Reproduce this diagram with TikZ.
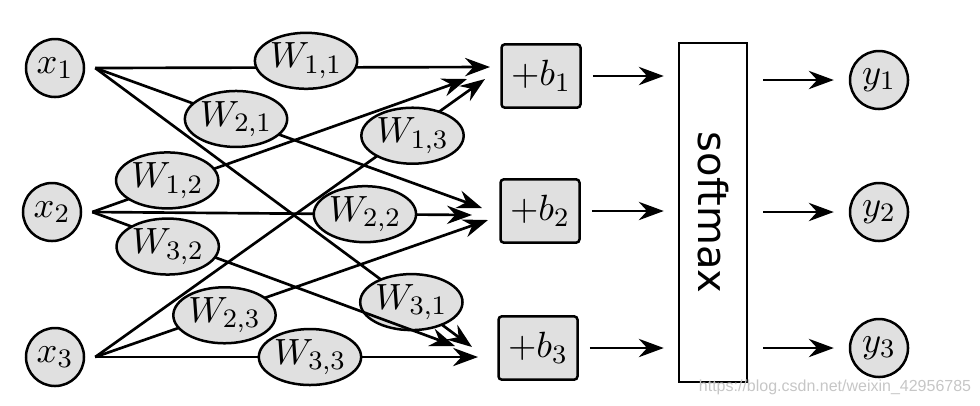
\documentclass[tikz,border=0pt]{standalone}
\usepackage{fontspec}
\usetikzlibrary{shapes.geometric,arrows.meta}
\newfontfamily\smfont{DejaVu Sans}
\newfontfamily\wmfont{Liberation Sans}
\definecolor{nodegray}{gray}{0.88}
\begin{document}
\begin{tikzpicture}[x=0.3pt, y=-0.3pt,
    every node/.style={font=\fontsize{11}{13}\selectfont},
    inp/.style={circle, draw, fill=nodegray, line width=0.75pt, minimum size=17.4pt, inner sep=0pt},
    wt/.style={ellipse, draw, fill=nodegray, line width=0.75pt, minimum width=24.6pt, minimum height=16.8pt, inner sep=0pt},
    bias/.style={rectangle, draw, fill=nodegray, line width=0.75pt, rounded corners=1pt, minimum width=23.7pt, minimum height=19pt, inner sep=0pt},
    smbox/.style={rectangle, draw, line width=0.75pt, minimum width=20.4pt, minimum height=101.7pt},
    arr/.style={-{Stealth[length=7.5pt, width=5.5pt, inset=2.5pt]}, line width=0.8pt}]
    \useasboundingbox (0,0) rectangle (980,405);
    \node[inp] (x1) at (55,68) {$x_1$};
    \node[inp] (x2) at (52,212) {$x_2$};
    \node[inp] (x3) at (55,357) {$x_3$};
    \coordinate (s1) at ([xshift=3pt]x1.east);
    \coordinate (s2) at ([xshift=3pt]x2.east);
    \coordinate (s3) at ([xshift=3pt]x3.east);
    \node[bias] (b1) at (541,76) {$+b_1$};
    \node[bias] (b2) at (540,211) {$+b_2$};
    \node[bias] (b3) at (538,348) {$+b_3$};
    \coordinate (e11) at (490,67);
    \coordinate (e12) at (467,79);
    \coordinate (e13) at (485,79);
    \coordinate (e21) at (482,208);
    \coordinate (e22) at (472,215);
    \coordinate (e23) at (488,220);
    \coordinate (e31) at (472,347);
    \coordinate (e32) at (455,346);
    \coordinate (e33) at (478,357);
    \draw[arr] (s1) -- node[wt, pos=0.534, yshift=2pt] (w11) {$W_{1,1}$} (e11);
    \draw[arr] (s1) -- node[wt, pos=0.364] (w21) {$W_{2,1}$} (e21);
    \draw[arr] (s1) -- node[wt, pos=0.839] (w31) {$W_{3,1}$} (e31);
    \draw[arr] (s2) -- node[wt, pos=0.2, yshift=1.5pt] (w12) {$W_{1,2}$} (e12);
    \draw[arr] (s2) -- node[wt, pos=0.718] (w22) {$W_{2,2}$} (e22);
    \draw[arr] (s2) -- node[wt, pos=0.208, yshift=-2pt] (w32) {$W_{3,2}$} (e32);
    \draw[arr] (s3) -- node[wt, pos=0.814, yshift=-1.5pt] (w13) {$W_{1,3}$} (e13);
    \draw[arr] (s3) -- node[wt, pos=0.329, yshift=-1pt] (w23) {$W_{2,3}$} (e23);
    \draw[arr] (s3) -- node[wt, pos=0.561] (w33) {$W_{3,3}$} (e33);
    \node[smbox] (sm) at (713,212.5) {};
    \node[rotate=-90, font=\smfont\fontsize{12}{14}\selectfont] (smlabel) at (sm.center) {softmax};
    \node[inp] (y1) at (879,80) {$y_1$};
    \node[inp] (y2) at (879,212) {$y_2$};
    \node[inp] (y3) at (879,348) {$y_3$};
    \draw[arr, shorten <=3.3pt, shorten >=4.2pt] (b1.east) -- (sm.west |- b1.east);
    \draw[arr, shorten <=3.3pt, shorten >=4.2pt] (b2.east) -- (sm.west |- b2.east);
    \draw[arr, shorten <=3.3pt, shorten >=4.2pt] (b3.east) -- (sm.west |- b3.east);
    \draw[arr, shorten <=4.5pt, shorten >=4.5pt] (sm.east |- y1.west) -- (y1.west);
    \draw[arr, shorten <=4.5pt, shorten >=4.5pt] (sm.east |- y2.west) -- (y2.west);
    \draw[arr, shorten <=4.5pt, shorten >=4.5pt] (sm.east |- y3.west) -- (y3.west);
    \node[font=\wmfont\fontsize{4.8}{5}\selectfont, text=gray!45] (wm) at (835,387) {https://blog.csdn.net/weixin\_42956785};
\end{tikzpicture}
\end{document}
